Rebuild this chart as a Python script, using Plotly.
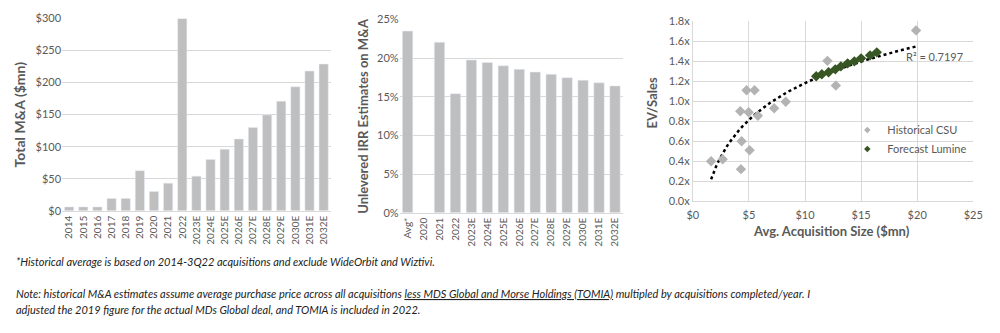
import numpy as np
import plotly.graph_objects as go

# ---------------- data ----------------
ma_years = ["2014", "2015", "2016", "2017", "2018", "2019", "2020", "2021", "2022",
            "2023E", "2024E", "2025E", "2026E", "2027E", "2028E", "2029E", "2030E",
            "2031E", "2032E"]
ma_values = [6, 6, 6, 19, 19, 62.5, 30, 43, 300, 54, 80, 96, 112, 130, 149.5,
             171, 193.5, 218, 229]

irr_years = ["Avg*", "2020", "2021", "2022", "2023E", "2024E", "2025E", "2026E",
             "2027E", "2028E", "2029E", "2030E", "2031E", "2032E"]
irr_values = [23.5, None, 22.05, 15.4, 19.76, 19.43, 19.0, 18.55, 18.2, 17.9,
              17.47, 17.14, 16.8, 16.4]

hist_size = [1.63, 2.66, 4.23, 4.35, 4.29, 4.79, 4.97, 5.06, 5.5, 5.8, 7.25,
             8.28, 12.0, 12.75, 19.9]
hist_evs = [0.40, 0.42, 0.90, 0.60, 0.32, 1.11, 0.89, 0.51, 1.11, 0.855, 0.93,
            0.995, 1.405, 1.157, 1.71]

fc_size = [11.0, 11.5, 12.1, 12.7, 13.2, 13.8, 14.4, 15.0, 15.8, 16.4]
fc_evs = [1.25, 1.27, 1.29, 1.32, 1.35, 1.38, 1.40, 1.43, 1.46, 1.49]

r2_label = "R² = 0.7197"

# ---------------- styles ----------------
BAR = "#bfbfbf"
GRID = "#d9d9d9"
TXT = "#595959"
GREY_PT = "#b3b3b3"
GREEN_PT = "#375623"
FONT = "Lato, Open Sans, sans-serif"

W, H = 1000, 333

def px_x(x):
    return x / W

def px_y(y):
    return 1 - y / H

fig = go.Figure()

fig.add_trace(go.Bar(x=ma_years, y=ma_values, marker_color=BAR, xaxis="x", yaxis="y",
                     showlegend=False))
fig.add_trace(go.Bar(x=irr_years, y=irr_values, marker_color=BAR, xaxis="x2", yaxis="y2",
                     showlegend=False))

# log trendline fitted from historical points
lx = np.log(np.array(hist_size))
a, b = np.polyfit(lx, np.array(hist_evs), 1)
tx = np.linspace(min(hist_size), max(hist_size), 80)
ty = a * np.log(tx) + b
fig.add_trace(go.Scatter(x=tx, y=ty, mode="lines", xaxis="x3", yaxis="y3",
                         line=dict(color="black", width=2.5, dash="dot"),
                         showlegend=False, hoverinfo="skip"))
fig.add_trace(go.Scatter(x=hist_size, y=hist_evs, mode="markers", name="Historical CSU",
                         xaxis="x3", yaxis="y3", showlegend=False,
                         marker=dict(symbol="diamond", size=8, color=GREY_PT)))
fig.add_trace(go.Scatter(x=fc_size, y=fc_evs, mode="markers", name="Forecast Lumine",
                         xaxis="x3", yaxis="y3", showlegend=False,
                         marker=dict(symbol="diamond", size=8, color=GREEN_PT)))
# legend entries with small symbols (as in the reference)
fig.add_trace(go.Scatter(x=[None], y=[None], mode="markers", name="Historical CSU",
                         xaxis="x3", yaxis="y3",
                         marker=dict(symbol="diamond", size=5, color=GREY_PT)))
fig.add_trace(go.Scatter(x=[None], y=[None], mode="markers", name="Forecast Lumine",
                         xaxis="x3", yaxis="y3",
                         marker=dict(symbol="diamond", size=5, color=GREEN_PT)))

tickfont = dict(family=FONT, size=11, color=TXT)

fig.update_layout(
    width=W, height=H,
    margin=dict(l=0, r=0, t=0, b=0),
    paper_bgcolor="white", plot_bgcolor="white",
    font=dict(family=FONT, color=TXT),
    bargap=0.35,
    xaxis=dict(domain=[px_x(57), px_x(330)], anchor="y", tickangle=-90,
               tickfont=dict(family=FONT, size=10, color=TXT), showline=True,
               linecolor=GRID, ticks=""),
    yaxis=dict(domain=[px_y(212), px_y(12)], anchor="x", range=[0, 300],
               dtick=50, tickprefix="$", gridcolor=GRID, tickfont=tickfont,
               zeroline=False),
    xaxis2=dict(domain=[px_x(400), px_x(627)], anchor="y2", tickangle=-90,
                tickfont=dict(family=FONT, size=10, color=TXT), showline=True,
                linecolor=GRID, ticks=""),
    yaxis2=dict(domain=[px_y(214), px_y(13)], anchor="x2", range=[0, 25],
                dtick=5, ticksuffix="%", gridcolor=GRID, tickfont=tickfont,
                zeroline=False),
    xaxis3=dict(domain=[px_x(698), px_x(983)], anchor="y3", range=[0, 25],
                dtick=5, tickprefix="$", gridcolor=GRID, tickfont=tickfont,
                showline=True, linecolor=GRID, zeroline=False, ticklen=4,
                ticks="outside", tickcolor="rgba(0,0,0,0)"),
    yaxis3=dict(domain=[px_y(202), px_y(15)], anchor="x3", range=[0, 1.8],
                dtick=0.2, tickformat=".1f", ticksuffix="x", gridcolor=GRID,
                tickfont=tickfont, showline=True, linecolor=GRID, zeroline=False),
    legend=dict(x=px_x(855), y=px_y(113), xanchor="left", yanchor="top",
                bgcolor="rgba(0,0,0,0)", font=dict(family=FONT, size=11, color=TXT),
                itemsizing="trace", tracegroupgap=0),
)

annotations = [
    dict(text="<b>Total M&A ($mn)</b>", x=px_x(14), y=px_y(112), textangle=-90,
         font=dict(family=FONT, size=14, color=TXT)),
    dict(text="<b>Unlevered IRR Estimates on M&A</b>", x=px_x(362), y=px_y(113),
         textangle=-90, font=dict(family=FONT, size=13, color=TXT)),
    dict(text="<b>EV/Sales</b>", x=px_x(657), y=px_y(100), textangle=-90,
         font=dict(family=FONT, size=13, color=TXT)),
    dict(text="<b>Avg. Acquisition Size ($mn)</b>", x=px_x(839), y=px_y(233),
         font=dict(family=FONT, size=13, color=TXT)),
    dict(text=r2_label, x=px_x(913), y=px_y(52), xanchor="left",
         font=dict(family=FONT, size=11, color=TXT)),
    dict(text="<i>*Historical average is based on 2014-3Q22 acquisitions and exclude WideOrbit and Wiztivi.</i>",
         x=px_x(8), y=px_y(265), xanchor="left", font=dict(family=FONT, size=11, color="#222222")),
    dict(text="<i>Note: historical M&A estimates assume average purchase price across all acquisitions "
              "<u>less MDS Global and Morse Holdings (TOMIA)</u> multipled by acquisitions completed/year. I</i>",
         x=px_x(8), y=px_y(298), xanchor="left", font=dict(family=FONT, size=11, color="#222222")),
    dict(text="<i>adjusted the 2019 figure for the actual MDs Global deal, and TOMIA is included in 2022.</i>",
         x=px_x(8), y=px_y(315), xanchor="left", font=dict(family=FONT, size=11, color="#222222")),
]
for an in annotations:
    an.update(xref="paper", yref="paper", showarrow=False)
    an.setdefault("xanchor", "center")
    an.setdefault("yanchor", "middle")
fig.update_layout(annotations=annotations)

fig.write_html("out.html")
